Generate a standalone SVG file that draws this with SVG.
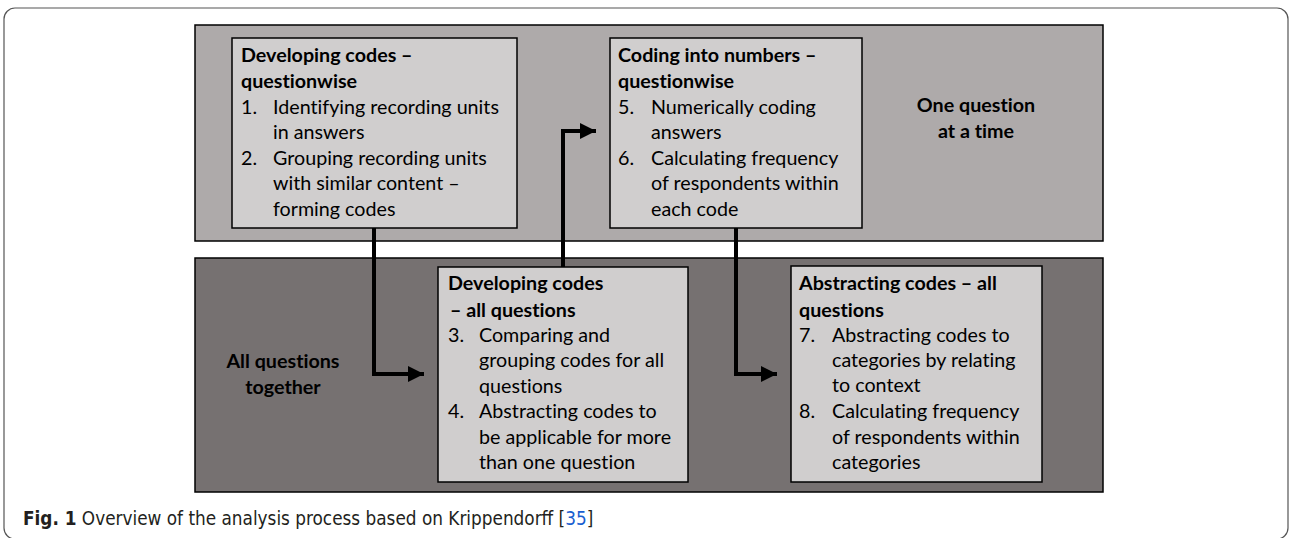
<svg xmlns="http://www.w3.org/2000/svg" width="1290" height="538" viewBox="0 0 1290 538">
<style>
.box{fill:#d0cece;stroke:#000;stroke-width:1.5}
.t{font-family:Lato,"Liberation Sans",sans-serif;font-size:19.7px;fill:#000;font-variant-ligatures:none}
.b{font-weight:bold}
.conn{fill:none;stroke:#000;stroke-width:4}
.cap{font-family:"Liberation Sans Narrow","DejaVu Sans Condensed","Liberation Sans",sans-serif;font-size:18.8px;fill:#231f20}
</style>
<defs>
<marker id="ah" markerWidth="4" markerHeight="4" refX="4" refY="2" orient="auto" markerUnits="strokeWidth">
<path d="M0,0 L4,2 L0,4 Z" fill="#000"/>
</marker>
</defs>
<rect x="4" y="8" width="1284" height="531" rx="11" fill="#fff" stroke="#555" stroke-width="1.2"/>
<g id="panel-top">
<rect x="195" y="25" width="908" height="216" fill="#aeaaaa" stroke="#000" stroke-width="1.5"/>
<text class="t b" x="976" y="112" text-anchor="middle">One question</text>
<text class="t b" x="976" y="138" text-anchor="middle">at a time</text>
</g>
<g id="panel-bottom">
<rect x="195" y="258" width="908" height="234" fill="#767171" stroke="#000" stroke-width="1.5"/>
<text class="t b" x="283" y="368" text-anchor="middle">All questions</text>
<text class="t b" x="283" y="394" text-anchor="middle">together</text>
</g>
<g id="connectors">
<path class="conn" d="M374,228 V374 H424" marker-end="url(#ah)"/>
<path class="conn" d="M563,267 V131 H596" marker-end="url(#ah)"/>
<path class="conn" d="M736,228 V374 H777" marker-end="url(#ah)"/>
</g>
<g id="node1">
<rect class="box" x="232" y="38" width="285" height="190"/>
<text class="t b" x="241" y="62">Developing codes –</text>
<text class="t b" x="241" y="88">questionwise</text>
<text class="t" x="241" y="114">1.</text><text class="t" x="273" y="114">Identifying recording units</text>
<text class="t" x="273" y="139">in answers</text>
<text class="t" x="241" y="165">2.</text><text class="t" x="273" y="165">Grouping recording units</text>
<text class="t" x="273" y="190">with similar content –</text>
<text class="t" x="273" y="216">forming codes</text>
</g>
<g id="node2">
<rect class="box" x="610" y="38" width="252" height="190"/>
<text class="t b" x="618" y="62">Coding into numbers –</text>
<text class="t b" x="618" y="88">questionwise</text>
<text class="t" x="618" y="114">5.</text><text class="t" x="651" y="114">Numerically coding</text>
<text class="t" x="651" y="139">answers</text>
<text class="t" x="618" y="165">6.</text><text class="t" x="651" y="165">Calculating frequency</text>
<text class="t" x="651" y="190">of respondents within</text>
<text class="t" x="651" y="216">each code</text>
</g>
<g id="node3">
<rect class="box" x="438" y="267" width="250" height="215"/>
<text class="t b" x="448" y="290">Developing codes</text>
<text class="t b" x="450" y="317">– all questions</text>
<text class="t" x="448" y="342">3.</text><text class="t" x="479" y="342">Comparing and</text>
<text class="t" x="479" y="367">grouping codes for all</text>
<text class="t" x="479" y="393">questions</text>
<text class="t" x="448" y="418">4.</text><text class="t" x="479" y="418">Abstracting codes to</text>
<text class="t" x="479" y="444">be applicable for more</text>
<text class="t" x="479" y="469">than one question</text>
</g>
<g id="node4">
<rect class="box" x="791" y="266" width="251" height="216"/>
<text class="t b" x="799" y="290">Abstracting codes – all</text>
<text class="t b" x="799" y="317">questions</text>
<text class="t" x="799" y="342">7.</text><text class="t" x="832" y="342">Abstracting codes to</text>
<text class="t" x="832" y="367">categories by relating</text>
<text class="t" x="832" y="392">to context</text>
<text class="t" x="799" y="418">8.</text><text class="t" x="832" y="418">Calculating frequency</text>
<text class="t" x="832" y="444">of respondents within</text>
<text class="t" x="832" y="469">categories</text>
</g>
<text class="cap" x="23" y="525"><tspan font-weight="bold">Fig. 1</tspan> Overview of the analysis process based on Krippendorff [<tspan fill="#1a5fd0">35</tspan>]</text>
</svg>
